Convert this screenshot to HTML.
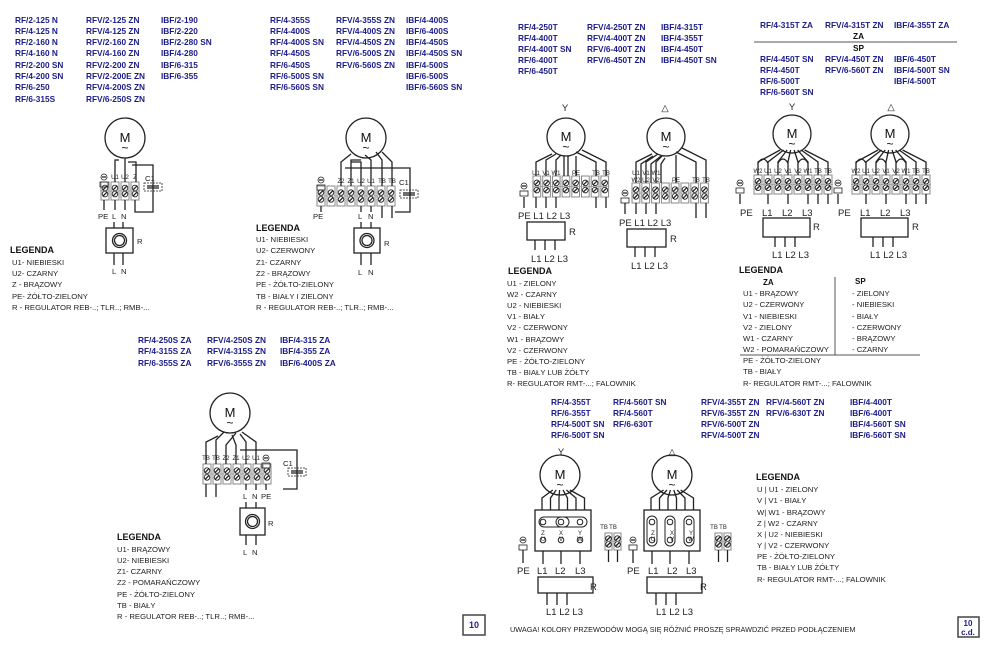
<!DOCTYPE html>
<html><head><meta charset="utf-8"><style>
html,body{margin:0;padding:0;background:#fff}
svg{display:block}
.b{font:bold 8.3px "Liberation Sans",sans-serif;fill:#1c1c8a}
.t{font:7.7px "Liberation Sans",sans-serif;fill:#222}
.w{font:7.3px "Liberation Sans",sans-serif;fill:#222}
.s{font:6px "Liberation Sans",sans-serif;fill:#222}
.h{font:bold 9px "Liberation Sans",sans-serif;fill:#111}
.m{font:13px "Liberation Sans",sans-serif;fill:#111}
.l{font:9.5px "Liberation Sans",sans-serif;fill:#222}
</style></head><body>
<svg id="sv" width="990" height="652" viewBox="0 0 990 652" xmlns="http://www.w3.org/2000/svg">
<rect width="990" height="652" fill="#fff"/>
<g id="g" fill="none" stroke="#222" stroke-width="1.3"></g>
<g class="b">
<text x="15" y="23">RF/2-125 N</text><text x="15" y="34">RF/4-125 N</text><text x="15" y="45">RF/2-160 N</text><text x="15" y="56">RF/4-160 N</text><text x="15" y="68">RF/2-200 SN</text><text x="15" y="79">RF/4-200 SN</text><text x="15" y="90">RF/6-250</text><text x="15" y="102">RF/6-315S</text>
<text x="86" y="23">RFV/2-125 ZN</text><text x="86" y="34">RFV/4-125 ZN</text><text x="86" y="45">RFV/2-160 ZN</text><text x="86" y="56">RFV/4-160 ZN</text><text x="86" y="68">RFV/2-200 ZN</text><text x="86" y="79">RFV/2-200E ZN</text><text x="86" y="90">RFV/4-200S ZN</text><text x="86" y="102">RFV/6-250S ZN</text>
<text x="161" y="23">IBF/2-190</text><text x="161" y="34">IBF/2-220</text><text x="161" y="45">IBF/2-280 SN</text><text x="161" y="56">IBF/4-280</text><text x="161" y="68">IBF/6-315</text><text x="161" y="79">IBF/6-355</text>
<text x="270" y="23">RF/4-355S</text><text x="270" y="34">RF/4-400S</text><text x="270" y="45">RF/4-400S SN</text><text x="270" y="56">RF/4-450S</text><text x="270" y="68">RF/6-450S</text><text x="270" y="79">RF/6-500S SN</text><text x="270" y="90">RF/6-560S SN</text>
<text x="336" y="23">RFV/4-355S ZN</text><text x="336" y="34">RFV/4-400S ZN</text><text x="336" y="45">RFV/4-450S ZN</text><text x="336" y="56">RFV/6-500S ZN</text><text x="336" y="68">RFV/6-560S ZN</text>
<text x="406" y="23">IBF/4-400S</text><text x="406" y="34">IBF/6-400S</text><text x="406" y="45">IBF/4-450S</text><text x="406" y="56">IBF/4-450S SN</text><text x="406" y="68">IBF/4-500S</text><text x="406" y="79">IBF/6-500S</text><text x="406" y="90">IBF/6-560S SN</text>
<text x="138" y="343">RF/4-250S ZA</text><text x="138" y="354">RF/4-315S ZA</text><text x="138" y="366">RF/6-355S ZA</text>
<text x="207" y="343">RFV/4-250S ZN</text><text x="207" y="354">RFV/4-315S ZN</text><text x="207" y="366">RFV/6-355S ZN</text>
<text x="280" y="343">IBF/4-315 ZA</text><text x="280" y="354">IBF/4-355 ZA</text><text x="280" y="366">IBF/6-400S ZA</text>
<text x="518" y="30">RF/4-250T</text><text x="518" y="41">RF/4-400T</text><text x="518" y="52">RF/4-400T SN</text><text x="518" y="63">RF/6-400T</text><text x="518" y="74">RF/6-450T</text>
<text x="587" y="30">RFV/4-250T ZN</text><text x="587" y="41">RFV/4-400T ZN</text><text x="587" y="52">RFV/6-400T ZN</text><text x="587" y="63">RFV/6-450T ZN</text>
<text x="661" y="30">IBF/4-315T</text><text x="661" y="41">IBF/4-355T</text><text x="661" y="52">IBF/4-450T</text><text x="661" y="63">IBF/4-450T SN</text>
<text x="760" y="28">RF/4-315T ZA</text><text x="825" y="28">RFV/4-315T ZN</text><text x="894" y="28">IBF/4-355T ZA</text>
<text x="853" y="39" style="fill:#111">ZA</text><text x="853" y="51" style="fill:#111">SP</text>
<text x="760" y="62">RF/4-450T SN</text><text x="760" y="73">RF/4-450T</text><text x="760" y="84">RF/6-500T</text><text x="760" y="95">RF/6-560T SN</text>
<text x="825" y="62">RFV/4-450T ZN</text><text x="825" y="73">RFV/6-560T ZN</text>
<text x="894" y="62">IBF/6-450T</text><text x="894" y="73">IBF/4-500T SN</text><text x="894" y="84">IBF/4-500T</text>
<text x="551" y="405">RF/4-355T</text><text x="551" y="416">RF/6-355T</text><text x="551" y="427">RF/4-500T SN</text><text x="551" y="438">RF/6-500T SN</text>
<text x="613" y="405">RF/4-560T SN</text><text x="613" y="416">RF/4-560T</text><text x="613" y="427">RF/6-630T</text>
<text x="701" y="405">RFV/4-355T ZN</text><text x="701" y="416">RFV/6-355T ZN</text><text x="701" y="427">RFV/6-500T ZN</text><text x="701" y="438">RFV/4-500T ZN</text>
<text x="766" y="405">RFV/4-560T ZN</text><text x="766" y="416">RFV/6-630T ZN</text>
<text x="850" y="405">IBF/4-400T</text><text x="850" y="416">IBF/6-400T</text><text x="850" y="427">IBF/4-560T SN</text><text x="850" y="438">IBF/6-560T SN</text>
</g>
<line x1="754" y1="42" x2="957" y2="42" stroke="#777" stroke-width="1.2"/>
<g class="m" text-anchor="middle">
<text x="125" y="142">M</text><text x="366" y="142">M</text><text x="230" y="417">M</text>
<text x="566" y="141">M</text><text x="666" y="141">M</text><text x="792" y="138">M</text><text x="890" y="138">M</text>
<text x="560" y="479">M</text><text x="672" y="479">M</text>
</g>
<g class="m" text-anchor="middle" style="font-size:12px">
<text x="125" y="152">~</text><text x="366" y="152">~</text><text x="230" y="427">~</text>
<text x="566" y="151">~</text><text x="666" y="151">~</text><text x="792" y="148">~</text><text x="890" y="148">~</text>
<text x="560" y="489">~</text><text x="672" y="489">~</text>
</g>
<g class="l" text-anchor="middle">
<text x="565" y="111">Y</text><text x="665" y="111">△</text><text x="792" y="110">Y</text><text x="891" y="110">△</text>
<text x="561" y="455">Y</text><text x="672" y="455">△</text>
</g>
<g class="s" text-anchor="middle">
<text x="115" y="179">U1</text><text x="125" y="179">U2</text><text x="135" y="179">Z</text>
<text x="341" y="183">Z2</text><text x="351" y="183">Z1</text><text x="361" y="183">U2</text><text x="371" y="183">U1</text><text x="382" y="183">TB</text><text x="392" y="183">TB</text>
<text x="206" y="460">TB</text><text x="216" y="460">TB</text><text x="226" y="460">Z2</text><text x="236" y="460">Z1</text><text x="246" y="460">U2</text><text x="256" y="460">U1</text>
<text x="536" y="175">U1</text><text x="546" y="175">V1</text><text x="556" y="175">W1</text><text x="576" y="175">PE</text><text x="596" y="175">TB</text><text x="606" y="175">TB</text>
<text x="636" y="175">U1</text><text x="646" y="175">V1</text><text x="656" y="175">W1</text>
<text x="636" y="182">W2</text><text x="646" y="182">U2</text><text x="656" y="182">V2</text><text x="676" y="182">PE</text><text x="696" y="182">TB</text><text x="706" y="182">TB</text>
<text x="758" y="173">W2</text><text x="768" y="173">U1</text><text x="778" y="173">U2</text><text x="788" y="173">V1</text><text x="798" y="173">V2</text><text x="808" y="173">W1</text><text x="818" y="173">TB</text><text x="828" y="173">TB</text>
<text x="856" y="173">W2</text><text x="866" y="173">U1</text><text x="876" y="173">U2</text><text x="886" y="173">V1</text><text x="896" y="173">V2</text><text x="906" y="173">W1</text><text x="916" y="173">TB</text><text x="926" y="173">TB</text>
<text x="604" y="529">TB</text><text x="613" y="529">TB</text><text x="714" y="529">TB</text><text x="723" y="529">TB</text>
<text x="543" y="535">Z</text><text x="543" y="541">U</text><text x="561" y="535">X</text><text x="561" y="541">V</text><text x="580" y="535">Y</text><text x="580" y="541">W</text>
<text x="653" y="535">Z</text><text x="653" y="541">U</text><text x="672" y="535">X</text><text x="672" y="541">V</text><text x="691" y="535">Y</text><text x="691" y="541">W</text>
</g>
<g class="t">
<text x="145" y="181">C1</text><text x="399" y="185">C1</text><text x="283" y="466">C1</text>
<text x="98" y="219">PE</text><text x="112" y="219">L</text><text x="121" y="219">N</text><text x="137" y="244">R</text><text x="112" y="274">L</text><text x="121" y="274">N</text>
<text x="313" y="219">PE</text><text x="358" y="219">L</text><text x="368" y="219">N</text><text x="384" y="246">R</text><text x="358" y="275">L</text><text x="368" y="275">N</text>
<text x="243" y="499">L</text><text x="252" y="499">N</text><text x="261" y="499">PE</text><text x="268" y="526">R</text><text x="243" y="555">L</text><text x="252" y="555">N</text>
</g>
<g class="l">
<text x="518" y="219">PE L1 L2 L3</text><text x="569" y="235">R</text><text x="531" y="262">L1 L2 L3</text>
<text x="619" y="226">PE L1 L2 L3</text><text x="670" y="242">R</text><text x="631" y="269">L1 L2 L3</text>
<text x="740" y="216">PE</text><text x="762" y="216">L1</text><text x="782" y="216">L2</text><text x="802" y="216">L3</text><text x="813" y="230">R</text><text x="772" y="258">L1 L2 L3</text>
<text x="838" y="216">PE</text><text x="860" y="216">L1</text><text x="880" y="216">L2</text><text x="900" y="216">L3</text><text x="912" y="230">R</text><text x="870" y="258">L1 L2 L3</text>
<text x="517" y="574">PE</text><text x="537" y="574">L1</text><text x="555" y="574">L2</text><text x="575" y="574">L3</text><text x="590" y="590">R</text><text x="546" y="615">L1 L2 L3</text>
<text x="627" y="574">PE</text><text x="648" y="574">L1</text><text x="667" y="574">L2</text><text x="686" y="574">L3</text><text x="700" y="590">R</text><text x="656" y="615">L1 L2 L3</text>
</g>
<g class="h"><text x="10" y="253">LEGENDA</text><text x="256" y="231">LEGENDA</text><text x="117" y="540">LEGENDA</text><text x="508" y="274">LEGENDA</text><text x="739" y="273">LEGENDA</text><text x="756" y="480">LEGENDA</text></g>
<g class="t">
<text x="12" y="265">U1- NIEBIESKI</text><text x="12" y="276">U2- CZARNY</text><text x="12" y="287">Z - BRĄZOWY</text><text x="12" y="299">PE- ŻÓŁTO-ZIELONY</text><text x="12" y="310">R -  REGULATOR REB-..; TLR..; RMB-...</text>
<text x="256" y="242">U1- NIEBIESKI</text><text x="256" y="253">U2- CZERWONY</text><text x="256" y="265">Z1- CZARNY</text><text x="256" y="276">Z2 - BRĄZOWY</text><text x="256" y="287">PE - ŻÓŁTO-ZIELONY</text><text x="256" y="299">TB - BIAŁY I ZIELONY</text><text x="256" y="310">R -  REGULATOR REB-..; TLR..; RMB-...</text>
<text x="117" y="552">U1- BRĄZOWY</text><text x="117" y="563">U2- NIEBIESKI</text><text x="117" y="574">Z1- CZARNY</text><text x="117" y="585">Z2 - POMARAŃCZOWY</text><text x="117" y="597">PE - ŻÓŁTO-ZIELONY</text><text x="117" y="608">TB - BIAŁY</text><text x="117" y="619">R -  REGULATOR REB-..; TLR..; RMB-...</text>
<text x="507" y="286">U1 - ZIELONY</text><text x="507" y="297">W2 - CZARNY</text><text x="507" y="308">U2 - NIEBIESKI</text><text x="507" y="319">V1 - BIAŁY</text><text x="507" y="330">V2 - CZERWONY</text><text x="507" y="342">W1 - BRĄZOWY</text><text x="507" y="353">V2 - CZERWONY</text><text x="507" y="364">PE - ŻÓŁTO-ZIELONY</text><text x="507" y="375">TB - BIAŁY LUB ŻÓŁTY</text><text x="507" y="386">R-  REGULATOR RMT-...; FALOWNIK</text>
<text x="763" y="285" class="h" style="font-size:8px">ZA</text><text x="855" y="284" class="h" style="font-size:8px">SP</text>
<text x="743" y="296">U1 - BRĄZOWY</text><text x="743" y="307">U2 - CZERWONY</text><text x="743" y="319">V1 - NIEBIESKI</text><text x="743" y="330">V2 - ZIELONY</text><text x="743" y="341">W1 - CZARNY</text><text x="743" y="352">W2 - POMARAŃCZOWY</text>
<text x="852" y="296">- ZIELONY</text><text x="852" y="307">- NIEBIESKI</text><text x="852" y="319">- BIAŁY</text><text x="852" y="330">- CZERWONY</text><text x="852" y="341">- BRĄZOWY</text><text x="852" y="352">- CZARNY</text>
<text x="743" y="363">PE - ŻÓŁTO-ZIELONY</text><text x="743" y="374">TB - BIAŁY</text><text x="743" y="386">R-  REGULATOR RMT-...; FALOWNIK</text>
<text x="757" y="492">U  |  U1 - ZIELONY</text><text x="757" y="503">V  |  V1 - BIAŁY</text><text x="757" y="515">W|  W1 - BRĄZOWY</text><text x="757" y="526">Z  |  W2 - CZARNY</text><text x="757" y="537">X  |  U2 - NIEBIESKI</text><text x="757" y="548">Y  |  V2 - CZERWONY</text><text x="757" y="559">PE - ŻÓŁTO-ZIELONY</text><text x="757" y="570">TB - BIAŁY LUB ŻÓŁTY</text><text x="757" y="582">R-  REGULATOR RMT-...; FALOWNIK</text>
</g>
<text x="510" y="632" class="w">UWAGA! KOLORY PRZEWODÓW MOGĄ SIĘ RÓŻNIĆ PROSZĘ SPRAWDZIĆ PRZED PODŁĄCZENIEM</text>
<line x1="835" y1="277" x2="835" y2="355" stroke="#555"/><line x1="740" y1="355" x2="920" y2="355" stroke="#555"/>
<rect x="463" y="615" width="22" height="20" fill="none" stroke="#444" stroke-width="1.5"/>
<text x="474" y="628" text-anchor="middle" class="h" style="fill:#1c1c8a">10</text>
<rect x="958" y="617" width="21" height="20" fill="none" stroke="#444" stroke-width="1.5"/>
<text x="968" y="626" text-anchor="middle" class="h" style="fill:#1c1c8a;font-size:8px">10</text>
<text x="968" y="635" text-anchor="middle" class="h" style="fill:#1c1c8a;font-size:8px">c.d.</text>
</svg>
<script>
var g=document.getElementById('g'),NS='http://www.w3.org/2000/svg';
function el(t,a){var e=document.createElementNS(NS,t);for(var k in a)e.setAttribute(k,a[k]);g.appendChild(e);return e}
function L(x1,y1,x2,y2){el('line',{x1:x1,y1:y1,x2:x2,y2:y2})}
function P(d){el('path',{d:d})}
function circ(x,y,r){el('circle',{cx:x,cy:y,r:r,fill:'#fff'})}
function term(x,y,n,w,h){for(var i=0;i<n;i++){var cx=x+i*w;el('rect',{x:cx+1,y:y,width:w-2,height:h,stroke:'#888','stroke-width':1,fill:'#fff'});
 for(var j=0;j<2;j++){var cy=y+h*(0.33+0.34*j);el('circle',{cx:cx+w/2,cy:cy,r:2.8,'stroke-width':0.9});L(cx+w/2-2,cy+2,cx+w/2+2,cy-2)}}
 el('line',{x1:x,y1:y+h/2,x2:x+n*w,y2:y+h/2,stroke:'#999','stroke-width':0.8})}
function earth(x,y){el('circle',{cx:x,cy:y,r:3,'stroke-width':0.8});L(x-2,y,x+2,y);el('rect',{x:x-4,y:y+5,width:8,height:5,'stroke-width':0.8})}
function reg(x,y,w,h){el('rect',{x:x,y:y,width:w,height:h});el('circle',{cx:x+w/2,cy:y+h/2,r:7});el('circle',{cx:x+w/2,cy:y+h/2,r:5})}
function cap(x,y){el('rect',{x:x,y:y,width:18,height:8,'stroke-dasharray':'2,1','stroke-width':0.8});L(x+3,y+3,x+15,y+3);L(x+3,y+5,x+15,y+5)}
circ(125,138,20);term(100,182,4,10,18);earth(104,177);
P('M115 182V160h4');P('M125 182V158');P('M128 162h8v20');P('M132 165H153v47H135v-12');cap(144,183);
L(104,200,104,210);L(115,200,115,210);L(125,200,125,210);
el('rect',{x:106,y:228,width:27,height:25});el('circle',{cx:119.5,cy:240.5,r:7});el('circle',{cx:119.5,cy:240.5,r:5});
L(114,222,114,228);L(123,222,123,228);L(114,253,114,265);L(123,253,123,265);
circ(366,138,20);term(316,186,8,10,20);earth(321,180);
P('M341 186V162l10-8');P('M351 186V160h10');P('M361 186V162h-10');P('M371 186V160l-6-5');P('M382 186V160l-6-8');P('M392 186V162l-10-10');P('M345 168H410v44H395');cap(400,190);
L(321,206,321,212);L(361,206,361,212);L(371,206,371,212);L(382,206,382,218);L(392,206,392,218);
reg(354,228,26,25);L(361,222,361,228);L(371,222,371,228);L(361,253,361,265);L(371,253,371,265);
circ(230,413,20);term(202,464,7,10,20);earth(266,458);
P('M206 464V442l12-6');P('M216 464V440l8-8');P('M226 464V445l10-12');P('M236 464V445l-4-10');P('M246 464V442l-6-8');P('M256 464V442l-14-10');P('M240 450H297v39H283');cap(288,468);
L(206,484,206,497);L(216,484,216,497);L(246,484,246,490);L(256,484,256,490);L(266,484,266,490);
reg(240,508,25,27);L(246,502,246,508);L(256,502,256,508);L(246,535,246,545);L(256,535,256,545);
circ(566,137,19);term(532,176,8,9.7,21);earth(524,186);
P('M536 176V162l16-8');P('M546 176V160l10-6');P('M556 176V160l5-5');P('M564 176V156');P('M568 176V156');P('M576 176V156');P('M596 176V162l-20-10');P('M606 176V162l-24-12');
L(524,197,524,208);L(536,197,536,208);L(546,197,546,208);L(556,197,556,208);L(596,197,596,208);L(606,197,606,208);
el('rect',{x:527,y:222,width:38,height:18});L(535,240,535,250);L(545,240,545,250);L(555,240,555,250);
circ(666,137,19);term(631,183,8,9.8,20);earth(625,193);
P('M636 183V162l16-8');P('M641 183V164l12-8');P('M646 183V162l12-8');P('M651 183V164l10-8');P('M656 183V162l6-6');P('M661 183V164l4-6');P('M676 183V155');P('M696 183V162l-20-10');P('M706 183V160l-24-12');
L(625,203,625,214);L(636,203,636,214);L(646,203,646,214);L(656,203,656,214);L(696,203,696,218);L(706,203,706,218);
el('rect',{x:627,y:229,width:39,height:18});L(635,247,635,257);L(645,247,645,257);L(655,247,655,257);
[[792,753,740],[890,851,838]].forEach(function(a){var cx=a[0],x=a[1];circ(cx,134,19);term(x,175,8,10,19);earth(a[2],183);
 for(var i=0;i<8;i++){var tx=x+5+i*10;P('M'+tx+' 175V162L'+(cx+(tx-cx)*0.35)+' 150');}
 P('M'+(x+5)+' 163q5-8 10 0');P('M'+(x+25)+' 163q5-8 10 0');P('M'+(x+45)+' 163q5-8 10 0');
 L(a[2],194,a[2],204);L(x+15,194,x+15,204);L(x+35,194,x+35,204);L(x+55,194,x+55,204);L(x+65,194,x+65,204);L(x+75,194,x+75,204);
 el('rect',{x:x+10,y:218,width:47,height:19});L(x+22,237,x+22,247);L(x+32,237,x+32,247);L(x+42,237,x+42,247);});
[[560,535,604,523,0],[672,644,714,633,1]].forEach(function(a){var cx=a[0],x=a[1];circ(cx,475,20);
 el('rect',{x:x,y:510,width:56,height:41});
 for(var i=0;i<6;i++){var tx=x+7+i*8.5;P('M'+tx+' 510V498L'+(cx+(tx-cx)*0.4)+' 490');}
 var cs=[x+8,x+26,x+45];
 if(a[4]==0){el('rect',{x:x+4,y:517,width:30,height:10,rx:5,'stroke-width':1});el('rect',{x:x+21,y:517,width:31,height:10,rx:5,'stroke-width':1});}
 cs.forEach(function(c){el('circle',{cx:c,cy:522,r:2.8,'stroke-width':1});el('circle',{cx:c,cy:540,r:2.8,'stroke-width':1});
  if(a[4]==1)el('rect',{x:c-5,y:516,width:10,height:30,rx:5,'stroke-width':1});
  L(c,551,c,564)});
 term(a[2],533,2,9,17);L(a[2]+4.5,550,a[2]+4.5,562);L(a[2]+13.5,550,a[2]+13.5,562);
 earth(a[3],540);L(a[3],550,a[3],563);
 el('rect',{x:x+3,y:577,width:55,height:16});L(x+12,593,x+12,605);L(x+22,593,x+22,605);L(x+32,593,x+32,605);});
</script>
</body></html>
